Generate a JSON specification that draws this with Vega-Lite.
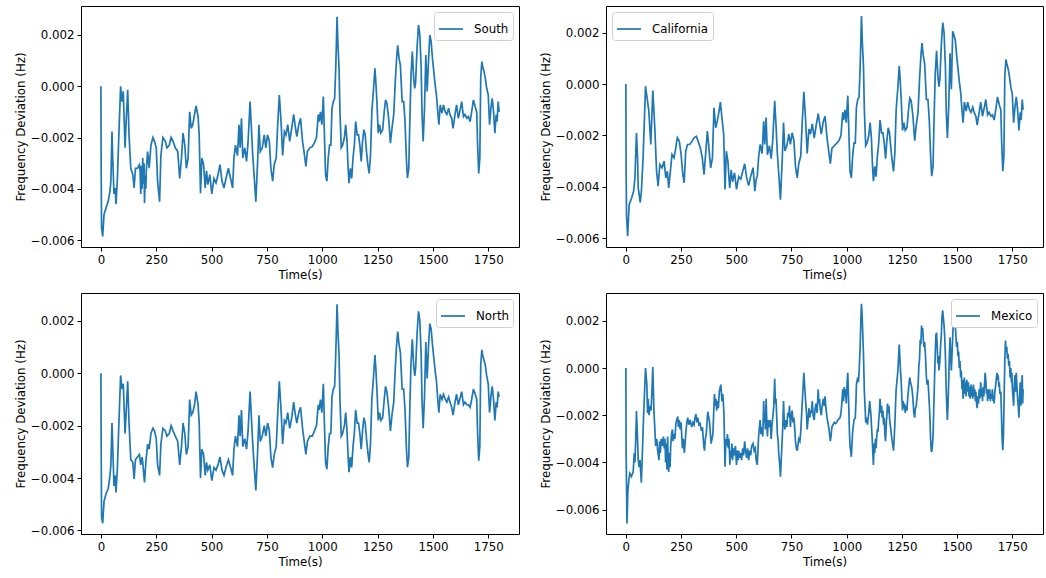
{
  "$schema": "https://vega.github.io/schema/vega-lite/v6.json",
  "background": "white",
  "padding": {"left": 14, "top": 5, "right": 1, "bottom": 0},
  "spacing": 9,
  "resolve": {"scale": {"color": "independent"}, "legend": {"color": "independent"}},
  "config": {
    "font": "DejaVu Sans",
    "view": {"stroke": "black", "strokeWidth": 1},
    "axis": {
      "grid": false,
      "domain": false,
      "tickColor": "black",
      "tickSize": 4,
      "tickWidth": 1,
      "labelFont": "DejaVu Sans",
      "labelFontSize": 11.8,
      "labelColor": "black",
      "labelPadding": 3,
      "labelFlush": false,
      "labelOverlap": false,
      "titleFont": "DejaVu Sans",
      "titleFontSize": 11.8,
      "titleFontWeight": "normal",
      "titleColor": "black",
      "titlePadding": 4
    },
    "legend": {
      "title": null,
      "symbolType": "stroke",
      "symbolSize": 576,
      "symbolStrokeWidth": 1.7,
      "labelFont": "DejaVu Sans",
      "labelFontSize": 11.8,
      "labelColor": "black",
      "labelOffset": 10,
      "strokeColor": "#d0d0d0",
      "fillColor": "white",
      "cornerRadius": 3,
      "padding": 4,
      "offset": 6
    },
    "line": {"strokeWidth": 1.7}
  },
  "datasets": {
    "south": [
      {"t":0,"v":0},{"t":1,"v":-0.00306},{"t":3,"v":-0.00553},{"t":8,"v":-0.00586},{"t":14,"v":-0.005},{"t":23,"v":-0.00475},{"t":33,"v":-0.00449},{"t":41,"v":-0.0041},{"t":45,"v":-0.0037},{"t":50,"v":-0.00177},{"t":53,"v":-0.0027},{"t":59,"v":-0.0042},{"t":64,"v":-0.00397},{"t":68,"v":-0.0046},{"t":74,"v":-0.0037},{"t":80,"v":-0.00215},{"t":89,"v":0},{"t":95,"v":-0.0006},{"t":101,"v":-0.0002},{"t":109,"v":-0.0024},{"t":114,"v":-0.00138},{"t":121,"v":-0.00014},{"t":127,"v":-0.0019},{"t":135,"v":-0.0032},{"t":144,"v":-0.00345},{"t":150,"v":-0.00397},{"t":156,"v":-0.0032},{"t":165,"v":-0.0032},{"t":174,"v":-0.00306},{"t":177,"v":-0.0033},{"t":180,"v":-0.0042},{"t":183,"v":-0.0031},{"t":186,"v":-0.004},{"t":189,"v":-0.0028},{"t":192,"v":-0.0038},{"t":195,"v":-0.003},{"t":197,"v":-0.00455},{"t":200,"v":-0.0035},{"t":203,"v":-0.004},{"t":205,"v":-0.0033},{"t":211,"v":-0.00255},{"t":218,"v":-0.0032},{"t":226,"v":-0.0023},{"t":235,"v":-0.002},{"t":242,"v":-0.00215},{"t":250,"v":-0.0024},{"t":256,"v":-0.0037},{"t":265,"v":-0.0045},{"t":271,"v":-0.0027},{"t":280,"v":-0.002},{"t":291,"v":-0.00215},{"t":298,"v":-0.0024},{"t":309,"v":-0.0023},{"t":317,"v":-0.002},{"t":326,"v":-0.00215},{"t":336,"v":-0.0024},{"t":347,"v":-0.00255},{"t":356,"v":-0.0036},{"t":364,"v":-0.0028},{"t":371,"v":-0.00183},{"t":379,"v":-0.0023},{"t":386,"v":-0.0032},{"t":394,"v":-0.0028},{"t":401,"v":-0.001},{"t":408,"v":-0.00164},{"t":415,"v":-0.0015},{"t":423,"v":-0.0011},{"t":430,"v":-0.00077},{"t":439,"v":-0.00118},{"t":444,"v":-0.0019},{"t":450,"v":-0.00417},{"t":456,"v":-0.0028},{"t":464,"v":-0.00306},{"t":471,"v":-0.00397},{"t":477,"v":-0.0033},{"t":483,"v":-0.00384},{"t":492,"v":-0.00345},{"t":501,"v":-0.0042},{"t":511,"v":-0.0036},{"t":520,"v":-0.00377},{"t":529,"v":-0.00345},{"t":538,"v":-0.00306},{"t":547,"v":-0.0037},{"t":556,"v":-0.00397},{"t":565,"v":-0.0036},{"t":576,"v":-0.0032},{"t":586,"v":-0.0036},{"t":595,"v":-0.00397},{"t":601,"v":-0.0028},{"t":608,"v":-0.0023},{"t":617,"v":-0.0027},{"t":624,"v":-0.0015},{"t":629,"v":-0.0024},{"t":635,"v":-0.00125},{"t":641,"v":-0.0028},{"t":650,"v":-0.0024},{"t":658,"v":-0.00293},{"t":665,"v":-0.00215},{"t":674,"v":-0.0006},{"t":680,"v":-0.00164},{"t":686,"v":-0.0027},{"t":692,"v":-0.00345},{"t":700,"v":-0.0045},{"t":708,"v":-0.00293},{"t":714,"v":-0.0015},{"t":720,"v":-0.00255},{"t":729,"v":-0.0024},{"t":738,"v":-0.0019},{"t":745,"v":-0.0024},{"t":753,"v":-0.0019},{"t":761,"v":-0.00215},{"t":768,"v":-0.0032},{"t":776,"v":-0.0037},{"t":783,"v":-0.00306},{"t":792,"v":-0.0028},{"t":798,"v":-0.00164},{"t":806,"v":-0.00034},{"t":814,"v":-0.00138},{"t":821,"v":-0.0027},{"t":829,"v":-0.00177},{"t":836,"v":-0.0019},{"t":844,"v":-0.0015},{"t":853,"v":-0.00215},{"t":862,"v":-0.00164},{"t":871,"v":-0.0011},{"t":877,"v":-0.0015},{"t":885,"v":-0.00196},{"t":894,"v":-0.0015},{"t":902,"v":-0.00125},{"t":911,"v":-0.00215},{"t":920,"v":-0.0027},{"t":926,"v":-0.00313},{"t":933,"v":-0.00255},{"t":944,"v":-0.0024},{"t":955,"v":-0.00235},{"t":965,"v":-0.0022},{"t":974,"v":-0.002},{"t":982,"v":-0.0011},{"t":986,"v":-0.00138},{"t":992,"v":-0.001},{"t":998,"v":-0.0015},{"t":1005,"v":-0.0004},{"t":1009,"v":-0.00164},{"t":1015,"v":-0.00345},{"t":1021,"v":-0.0037},{"t":1027,"v":-0.0028},{"t":1033,"v":-0.0023},{"t":1039,"v":-0.0023},{"t":1044,"v":-0.00086},{"t":1050,"v":-0.0006},{"t":1056,"v":-0.00047},{"t":1061,"v":0.0007},{"t":1067,"v":0.00271},{"t":1071,"v":0.0016},{"t":1076,"v":0.0007},{"t":1080,"v":-0.001},{"t":1086,"v":-0.0024},{"t":1092,"v":-0.0023},{"t":1100,"v":-0.002},{"t":1106,"v":-0.0015},{"t":1112,"v":-0.00215},{"t":1117,"v":-0.0032},{"t":1121,"v":-0.00378},{"t":1127,"v":-0.0032},{"t":1133,"v":-0.0036},{"t":1139,"v":-0.0028},{"t":1145,"v":-0.0023},{"t":1151,"v":-0.00138},{"t":1158,"v":-0.0019},{"t":1164,"v":-0.0019},{"t":1170,"v":-0.0023},{"t":1176,"v":-0.00293},{"t":1182,"v":-0.00215},{"t":1188,"v":-0.0017},{"t":1194,"v":-0.0019},{"t":1200,"v":-0.00255},{"t":1206,"v":-0.00306},{"t":1212,"v":-0.0034},{"t":1218,"v":-0.0027},{"t":1224,"v":-0.001},{"t":1232,"v":-0.00008},{"t":1238,"v":0.0007},{"t":1242,"v":0.00018},{"t":1247,"v":-0.0006},{"t":1253,"v":-0.00183},{"t":1259,"v":-0.0015},{"t":1265,"v":-0.00183},{"t":1273,"v":-0.0017},{"t":1280,"v":-0.001},{"t":1286,"v":-0.00053},{"t":1292,"v":-0.00066},{"t":1300,"v":-0.00125},{"t":1308,"v":-0.00222},{"t":1315,"v":-0.00164},{"t":1323,"v":-0.0011},{"t":1330,"v":0.00018},{"t":1336,"v":0.00109},{"t":1341,"v":0.0016},{"t":1347,"v":0.00109},{"t":1353,"v":0.00083},{"t":1361,"v":-0.0006},{"t":1368,"v":-0.0006},{"t":1374,"v":-0.00138},{"t":1380,"v":-0.0028},{"t":1385,"v":-0.00358},{"t":1391,"v":-0.0032},{"t":1395,"v":-0.00164},{"t":1401,"v":0.00044},{"t":1407,"v":0.00135},{"t":1413,"v":0.00031},{"t":1418,"v":-0.00008},{"t":1422,"v":0.00018},{"t":1429,"v":0.0016},{"t":1435,"v":0.00239},{"t":1441,"v":0.002},{"t":1447,"v":0.0007},{"t":1451,"v":-0.0011},{"t":1456,"v":-0.00215},{"t":1462,"v":-0.00086},{"t":1468,"v":0.00122},{"t":1474,"v":-0.0002},{"t":1480,"v":0.00096},{"t":1486,"v":0.002},{"t":1492,"v":0.00174},{"t":1498,"v":0.00109},{"t":1504,"v":0.00057},{"t":1510,"v":0.00005},{"t":1516,"v":-0.00034},{"t":1522,"v":-0.001},{"t":1527,"v":-0.0015},{"t":1533,"v":-0.00073},{"t":1541,"v":-0.00105},{"t":1548,"v":-0.00073},{"t":1556,"v":-0.001},{"t":1563,"v":-0.0011},{"t":1571,"v":-0.00086},{"t":1577,"v":-0.0011},{"t":1585,"v":-0.00125},{"t":1591,"v":-0.00164},{"t":1600,"v":-0.0011},{"t":1607,"v":-0.00073},{"t":1615,"v":-0.00125},{"t":1621,"v":-0.001},{"t":1630,"v":-0.0006},{"t":1638,"v":-0.00118},{"t":1645,"v":-0.0011},{"t":1653,"v":-0.00125},{"t":1660,"v":-0.00118},{"t":1668,"v":-0.00138},{"t":1675,"v":-0.001},{"t":1683,"v":-0.00053},{"t":1691,"v":-0.0008},{"t":1698,"v":-0.001},{"t":1702,"v":-0.0023},{"t":1707,"v":-0.0034},{"t":1712,"v":-0.0028},{"t":1716,"v":0.00031},{"t":1721,"v":0.00096},{"t":1725,"v":0.00077},{"t":1731,"v":0.00057},{"t":1737,"v":0.00031},{"t":1743,"v":-0.00008},{"t":1750,"v":-0.00034},{"t":1756,"v":-0.0015},{"t":1762,"v":-0.00086},{"t":1768,"v":-0.00047},{"t":1774,"v":-0.001},{"t":1780,"v":-0.00183},{"t":1786,"v":-0.0011},{"t":1790,"v":-0.00138},{"t":1795,"v":-0.0006},{"t":1799,"v":-0.001}
    ],
    "california": [
      {"t":0,"v":0},{"t":1,"v":-0.0032},{"t":3,"v":-0.0051},{"t":8,"v":-0.00592},{"t":15,"v":-0.00469},{"t":26,"v":-0.00443},{"t":35,"v":-0.00417},{"t":41,"v":-0.00365},{"t":48,"v":-0.0019},{"t":53,"v":-0.0029},{"t":56,"v":-0.00404},{"t":65,"v":-0.0046},{"t":70,"v":-0.0042},{"t":78,"v":-0.00287},{"t":89,"v":-0.00008},{"t":98,"v":-0.00066},{"t":104,"v":-0.00105},{"t":113,"v":-0.00235},{"t":122,"v":-0.00025},{"t":131,"v":-0.0017},{"t":139,"v":-0.00339},{"t":146,"v":-0.00397},{"t":154,"v":-0.00313},{"t":164,"v":-0.00326},{"t":173,"v":-0.003},{"t":181,"v":-0.00365},{"t":188,"v":-0.00339},{"t":194,"v":-0.00404},{"t":203,"v":-0.00326},{"t":209,"v":-0.00274},{"t":218,"v":-0.00287},{"t":226,"v":-0.00248},{"t":233,"v":-0.00209},{"t":242,"v":-0.00222},{"t":250,"v":-0.00274},{"t":258,"v":-0.00352},{"t":264,"v":-0.00384},{"t":271,"v":-0.00261},{"t":279,"v":-0.00235},{"t":289,"v":-0.00235},{"t":300,"v":-0.00222},{"t":309,"v":-0.00209},{"t":319,"v":-0.00203},{"t":327,"v":-0.00222},{"t":337,"v":-0.00248},{"t":346,"v":-0.00287},{"t":354,"v":-0.00352},{"t":361,"v":-0.00274},{"t":369,"v":-0.00183},{"t":376,"v":-0.00248},{"t":384,"v":-0.00326},{"t":392,"v":-0.00287},{"t":399,"v":-0.00092},{"t":407,"v":-0.0017},{"t":414,"v":-0.00144},{"t":422,"v":-0.00105},{"t":428,"v":-0.0007},{"t":435,"v":-0.00131},{"t":443,"v":-0.00196},{"t":449,"v":-0.0041},{"t":455,"v":-0.00261},{"t":462,"v":-0.003},{"t":470,"v":-0.00404},{"t":477,"v":-0.00335},{"t":483,"v":-0.0038},{"t":492,"v":-0.00345},{"t":501,"v":-0.0041},{"t":511,"v":-0.0036},{"t":520,"v":-0.0037},{"t":529,"v":-0.0034},{"t":538,"v":-0.0031},{"t":547,"v":-0.00365},{"t":556,"v":-0.00395},{"t":565,"v":-0.0036},{"t":576,"v":-0.00325},{"t":584,"v":-0.00417},{"t":590,"v":-0.0037},{"t":595,"v":-0.0036},{"t":601,"v":-0.00285},{"t":608,"v":-0.00235},{"t":617,"v":-0.0027},{"t":624,"v":-0.00145},{"t":629,"v":-0.00235},{"t":635,"v":-0.0013},{"t":641,"v":-0.00275},{"t":650,"v":-0.0024},{"t":658,"v":-0.0029},{"t":665,"v":-0.0022},{"t":674,"v":-0.00065},{"t":680,"v":-0.0016},{"t":686,"v":-0.0027},{"t":692,"v":-0.00345},{"t":700,"v":-0.0045},{"t":708,"v":-0.00295},{"t":714,"v":-0.0015},{"t":720,"v":-0.0026},{"t":729,"v":-0.0024},{"t":738,"v":-0.00195},{"t":745,"v":-0.00235},{"t":753,"v":-0.0019},{"t":761,"v":-0.0022},{"t":768,"v":-0.0032},{"t":776,"v":-0.00365},{"t":783,"v":-0.0031},{"t":792,"v":-0.0028},{"t":798,"v":-0.0016},{"t":806,"v":-0.0003},{"t":814,"v":-0.0014},{"t":821,"v":-0.0027},{"t":829,"v":-0.00175},{"t":836,"v":-0.00195},{"t":844,"v":-0.00155},{"t":853,"v":-0.0021},{"t":862,"v":-0.0016},{"t":871,"v":-0.00115},{"t":877,"v":-0.0015},{"t":885,"v":-0.00195},{"t":894,"v":-0.00145},{"t":902,"v":-0.00125},{"t":911,"v":-0.0021},{"t":920,"v":-0.0027},{"t":926,"v":-0.0031},{"t":933,"v":-0.0025},{"t":944,"v":-0.0024},{"t":955,"v":-0.0023},{"t":965,"v":-0.0022},{"t":974,"v":-0.002},{"t":982,"v":-0.0011},{"t":986,"v":-0.0014},{"t":992,"v":-0.001},{"t":998,"v":-0.0015},{"t":1005,"v":-0.00045},{"t":1009,"v":-0.0016},{"t":1015,"v":-0.0034},{"t":1021,"v":-0.00365},{"t":1027,"v":-0.0028},{"t":1033,"v":-0.0023},{"t":1039,"v":-0.0023},{"t":1044,"v":-0.0009},{"t":1050,"v":-0.0006},{"t":1056,"v":-0.0005},{"t":1061,"v":0.0007},{"t":1067,"v":0.00265},{"t":1071,"v":0.0016},{"t":1076,"v":0.0007},{"t":1080,"v":-0.001},{"t":1086,"v":-0.0024},{"t":1092,"v":-0.0023},{"t":1100,"v":-0.002},{"t":1106,"v":-0.0015},{"t":1112,"v":-0.0021},{"t":1117,"v":-0.0032},{"t":1121,"v":-0.00378},{"t":1127,"v":-0.0032},{"t":1133,"v":-0.0036},{"t":1139,"v":-0.0028},{"t":1145,"v":-0.0023},{"t":1151,"v":-0.0014},{"t":1158,"v":-0.0019},{"t":1164,"v":-0.0019},{"t":1170,"v":-0.0023},{"t":1176,"v":-0.0029},{"t":1182,"v":-0.0022},{"t":1188,"v":-0.0017},{"t":1194,"v":-0.0019},{"t":1200,"v":-0.0025},{"t":1206,"v":-0.003},{"t":1212,"v":-0.0034},{"t":1218,"v":-0.0027},{"t":1224,"v":-0.001},{"t":1232,"v":-0.0001},{"t":1238,"v":0.0007},{"t":1242,"v":0.0002},{"t":1247,"v":-0.0006},{"t":1253,"v":-0.0018},{"t":1259,"v":-0.0015},{"t":1265,"v":-0.0018},{"t":1273,"v":-0.0017},{"t":1280,"v":-0.001},{"t":1286,"v":-0.00055},{"t":1292,"v":-0.00065},{"t":1300,"v":-0.00125},{"t":1308,"v":-0.0022},{"t":1315,"v":-0.0016},{"t":1323,"v":-0.0011},{"t":1330,"v":0.0002},{"t":1336,"v":0.0011},{"t":1341,"v":0.0016},{"t":1347,"v":0.0011},{"t":1353,"v":0.0008},{"t":1361,"v":-0.0006},{"t":1368,"v":-0.0006},{"t":1374,"v":-0.0014},{"t":1380,"v":-0.0028},{"t":1385,"v":-0.00358},{"t":1391,"v":-0.0032},{"t":1395,"v":-0.0016},{"t":1401,"v":0.0004},{"t":1407,"v":0.0013},{"t":1413,"v":0.0003},{"t":1418,"v":-0.0001},{"t":1422,"v":0.0002},{"t":1429,"v":0.0016},{"t":1435,"v":0.00239},{"t":1441,"v":0.002},{"t":1447,"v":0.0007},{"t":1451,"v":-0.0011},{"t":1456,"v":-0.0021},{"t":1462,"v":-0.0009},{"t":1468,"v":0.0012},{"t":1474,"v":-0.0002},{"t":1480,"v":0.00206},{"t":1486,"v":0.0019},{"t":1492,"v":0.0017},{"t":1498,"v":0.0011},{"t":1504,"v":0.0006},{"t":1510,"v":0.0001},{"t":1516,"v":-0.0003},{"t":1522,"v":-0.001},{"t":1527,"v":-0.0015},{"t":1533,"v":-0.0007},{"t":1541,"v":-0.00105},{"t":1548,"v":-0.0007},{"t":1556,"v":-0.001},{"t":1563,"v":-0.0011},{"t":1571,"v":-0.0009},{"t":1577,"v":-0.0011},{"t":1585,"v":-0.00125},{"t":1591,"v":-0.0016},{"t":1600,"v":-0.0011},{"t":1607,"v":-0.0007},{"t":1615,"v":-0.00125},{"t":1621,"v":-0.001},{"t":1630,"v":-0.0006},{"t":1638,"v":-0.0012},{"t":1645,"v":-0.0011},{"t":1653,"v":-0.00125},{"t":1660,"v":-0.0012},{"t":1668,"v":-0.0014},{"t":1675,"v":-0.001},{"t":1683,"v":-0.0005},{"t":1691,"v":-0.0008},{"t":1698,"v":-0.001},{"t":1702,"v":-0.0023},{"t":1707,"v":-0.00339},{"t":1712,"v":-0.0028},{"t":1716,"v":0.0003},{"t":1721,"v":0.00096},{"t":1725,"v":0.0008},{"t":1731,"v":0.0006},{"t":1737,"v":0.0003},{"t":1743,"v":-0.0001},{"t":1750,"v":-0.0004},{"t":1756,"v":-0.0015},{"t":1762,"v":-0.0009},{"t":1768,"v":-0.0005},{"t":1774,"v":-0.001},{"t":1780,"v":-0.0018},{"t":1786,"v":-0.0011},{"t":1790,"v":-0.0014},{"t":1795,"v":-0.0006},{"t":1799,"v":-0.001}
    ],
    "north": [
      {"t":0,"v":0},{"t":1,"v":-0.0025},{"t":3,"v":-0.0055},{"t":8,"v":-0.00573},{"t":14,"v":-0.0049},{"t":23,"v":-0.0046},{"t":33,"v":-0.0044},{"t":41,"v":-0.0039},{"t":45,"v":-0.0035},{"t":50,"v":-0.0019},{"t":53,"v":-0.0027},{"t":59,"v":-0.0043},{"t":64,"v":-0.0039},{"t":68,"v":-0.00455},{"t":74,"v":-0.0037},{"t":80,"v":-0.0022},{"t":89,"v":-0.00008},{"t":95,"v":-0.0006},{"t":101,"v":-0.0004},{"t":109,"v":-0.0023},{"t":114,"v":-0.0015},{"t":121,"v":-0.0003},{"t":127,"v":-0.0019},{"t":135,"v":-0.0033},{"t":144,"v":-0.0034},{"t":150,"v":-0.00404},{"t":156,"v":-0.0033},{"t":165,"v":-0.0032},{"t":174,"v":-0.0031},{"t":180,"v":-0.0035},{"t":186,"v":-0.0032},{"t":189,"v":-0.0034},{"t":194,"v":-0.0039},{"t":197,"v":-0.00417},{"t":203,"v":-0.0034},{"t":211,"v":-0.0027},{"t":218,"v":-0.0029},{"t":226,"v":-0.0023},{"t":235,"v":-0.0021},{"t":242,"v":-0.0022},{"t":250,"v":-0.0025},{"t":256,"v":-0.0035},{"t":265,"v":-0.0039},{"t":271,"v":-0.0027},{"t":280,"v":-0.0021},{"t":291,"v":-0.0022},{"t":298,"v":-0.0024},{"t":309,"v":-0.0023},{"t":317,"v":-0.002},{"t":326,"v":-0.0022},{"t":336,"v":-0.0024},{"t":347,"v":-0.0026},{"t":356,"v":-0.0035},{"t":364,"v":-0.0028},{"t":371,"v":-0.0019},{"t":379,"v":-0.0023},{"t":386,"v":-0.0031},{"t":394,"v":-0.0028},{"t":401,"v":-0.001},{"t":408,"v":-0.0016},{"t":415,"v":-0.0015},{"t":423,"v":-0.0012},{"t":430,"v":-0.0007},{"t":439,"v":-0.0012},{"t":444,"v":-0.0019},{"t":450,"v":-0.004},{"t":456,"v":-0.0029},{"t":464,"v":-0.0031},{"t":471,"v":-0.0039},{"t":477,"v":-0.0034},{"t":483,"v":-0.0037},{"t":492,"v":-0.0035},{"t":501,"v":-0.0041},{"t":511,"v":-0.0036},{"t":520,"v":-0.0037},{"t":529,"v":-0.0035},{"t":538,"v":-0.0032},{"t":547,"v":-0.0037},{"t":556,"v":-0.0039},{"t":565,"v":-0.0036},{"t":576,"v":-0.0033},{"t":586,"v":-0.0036},{"t":595,"v":-0.0039},{"t":601,"v":-0.0029},{"t":608,"v":-0.0024},{"t":617,"v":-0.0028},{"t":624,"v":-0.0016},{"t":629,"v":-0.0024},{"t":635,"v":-0.0014},{"t":641,"v":-0.0028},{"t":650,"v":-0.0025},{"t":658,"v":-0.0029},{"t":665,"v":-0.0022},{"t":674,"v":-0.0007},{"t":680,"v":-0.0017},{"t":686,"v":-0.0027},{"t":692,"v":-0.0035},{"t":700,"v":-0.00448},{"t":708,"v":-0.003},{"t":714,"v":-0.0016},{"t":720,"v":-0.0026},{"t":729,"v":-0.0024},{"t":738,"v":-0.002},{"t":745,"v":-0.0024},{"t":753,"v":-0.0019},{"t":761,"v":-0.0022},{"t":768,"v":-0.0032},{"t":776,"v":-0.0036},{"t":783,"v":-0.0031},{"t":792,"v":-0.0028},{"t":798,"v":-0.0017},{"t":806,"v":-0.0003},{"t":814,"v":-0.0014},{"t":821,"v":-0.0027},{"t":829,"v":-0.0018},{"t":836,"v":-0.0019},{"t":844,"v":-0.0015},{"t":853,"v":-0.0021},{"t":862,"v":-0.0017},{"t":871,"v":-0.0011},{"t":877,"v":-0.0015},{"t":885,"v":-0.0019},{"t":894,"v":-0.0015},{"t":902,"v":-0.0013},{"t":911,"v":-0.0021},{"t":920,"v":-0.0027},{"t":926,"v":-0.0031},{"t":933,"v":-0.0026},{"t":944,"v":-0.0024},{"t":955,"v":-0.0024},{"t":965,"v":-0.0022},{"t":974,"v":-0.002},{"t":982,"v":-0.0012},{"t":986,"v":-0.0014},{"t":992,"v":-0.001},{"t":998,"v":-0.0015},{"t":1005,"v":-0.0004},{"t":1009,"v":-0.0017},{"t":1015,"v":-0.0034},{"t":1021,"v":-0.00366},{"t":1027,"v":-0.0028},{"t":1033,"v":-0.0023},{"t":1039,"v":-0.0023},{"t":1044,"v":-0.0009},{"t":1050,"v":-0.0006},{"t":1056,"v":-0.0005},{"t":1061,"v":0.0007},{"t":1067,"v":0.00264},{"t":1071,"v":0.0016},{"t":1076,"v":0.0007},{"t":1080,"v":-0.001},{"t":1086,"v":-0.0024},{"t":1092,"v":-0.0023},{"t":1100,"v":-0.002},{"t":1106,"v":-0.0015},{"t":1112,"v":-0.0022},{"t":1117,"v":-0.0032},{"t":1121,"v":-0.00378},{"t":1127,"v":-0.0032},{"t":1133,"v":-0.0036},{"t":1139,"v":-0.0028},{"t":1145,"v":-0.0023},{"t":1151,"v":-0.0014},{"t":1158,"v":-0.0019},{"t":1164,"v":-0.0019},{"t":1170,"v":-0.0023},{"t":1176,"v":-0.0029},{"t":1182,"v":-0.0022},{"t":1188,"v":-0.0017},{"t":1194,"v":-0.0019},{"t":1200,"v":-0.0025},{"t":1206,"v":-0.003},{"t":1212,"v":-0.0034},{"t":1218,"v":-0.0027},{"t":1224,"v":-0.001},{"t":1232,"v":-0.0001},{"t":1238,"v":0.0007},{"t":1242,"v":0.0002},{"t":1247,"v":-0.0006},{"t":1253,"v":-0.0018},{"t":1259,"v":-0.0015},{"t":1265,"v":-0.0018},{"t":1273,"v":-0.0017},{"t":1280,"v":-0.001},{"t":1286,"v":-0.0005},{"t":1292,"v":-0.0007},{"t":1300,"v":-0.0013},{"t":1308,"v":-0.0022},{"t":1315,"v":-0.0016},{"t":1323,"v":-0.0011},{"t":1330,"v":0.0002},{"t":1336,"v":0.0011},{"t":1341,"v":0.0016},{"t":1347,"v":0.0011},{"t":1353,"v":0.0008},{"t":1361,"v":-0.0006},{"t":1368,"v":-0.0006},{"t":1374,"v":-0.0014},{"t":1380,"v":-0.0028},{"t":1385,"v":-0.00359},{"t":1391,"v":-0.0032},{"t":1395,"v":-0.0016},{"t":1401,"v":0.0004},{"t":1407,"v":0.0013},{"t":1413,"v":0.0003},{"t":1418,"v":-0.0001},{"t":1422,"v":0.0002},{"t":1429,"v":0.0016},{"t":1435,"v":0.00237},{"t":1441,"v":0.002},{"t":1447,"v":0.0007},{"t":1451,"v":-0.0011},{"t":1456,"v":-0.0021},{"t":1462,"v":-0.0009},{"t":1468,"v":0.0012},{"t":1474,"v":-0.0002},{"t":1480,"v":0.001},{"t":1486,"v":0.0019},{"t":1492,"v":0.0017},{"t":1498,"v":0.0011},{"t":1504,"v":0.0006},{"t":1510,"v":0.0001},{"t":1516,"v":-0.0003},{"t":1522,"v":-0.001},{"t":1527,"v":-0.0015},{"t":1533,"v":-0.0008},{"t":1541,"v":-0.001},{"t":1548,"v":-0.0008},{"t":1556,"v":-0.001},{"t":1563,"v":-0.0011},{"t":1571,"v":-0.0009},{"t":1577,"v":-0.0011},{"t":1585,"v":-0.0013},{"t":1591,"v":-0.0016},{"t":1600,"v":-0.0011},{"t":1607,"v":-0.0008},{"t":1615,"v":-0.0012},{"t":1621,"v":-0.001},{"t":1630,"v":-0.0007},{"t":1638,"v":-0.0012},{"t":1645,"v":-0.0011},{"t":1653,"v":-0.0012},{"t":1660,"v":-0.0012},{"t":1668,"v":-0.0013},{"t":1675,"v":-0.001},{"t":1683,"v":-0.0006},{"t":1691,"v":-0.0008},{"t":1698,"v":-0.001},{"t":1702,"v":-0.0023},{"t":1707,"v":-0.00334},{"t":1712,"v":-0.0028},{"t":1716,"v":0.0003},{"t":1721,"v":0.0009},{"t":1725,"v":0.0007},{"t":1731,"v":0.0005},{"t":1737,"v":0.0003},{"t":1743,"v":-0.0001},{"t":1750,"v":-0.0004},{"t":1756,"v":-0.0015},{"t":1762,"v":-0.0009},{"t":1768,"v":-0.0005},{"t":1774,"v":-0.001},{"t":1780,"v":-0.0018},{"t":1786,"v":-0.0011},{"t":1790,"v":-0.0013},{"t":1795,"v":-0.0007},{"t":1799,"v":-0.0009}
    ],
    "mexico": [
      {"t":0,"v":0},{"t":1,"v":-0.0035},{"t":3,"v":-0.005},{"t":5,"v":-0.00658},{"t":9,"v":-0.0052},{"t":14,"v":-0.0047},{"t":18,"v":-0.00446},{"t":25,"v":-0.0046},{"t":33,"v":-0.0044},{"t":38,"v":-0.0036},{"t":41,"v":-0.004},{"t":45,"v":-0.0029},{"t":48,"v":-0.00182},{"t":52,"v":-0.0028},{"t":56,"v":-0.0039},{"t":60,"v":-0.0042},{"t":64,"v":-0.0039},{"t":70,"v":-0.00486},{"t":74,"v":-0.0038},{"t":80,"v":-0.0021},{"t":89,"v":0},{"t":95,"v":-0.0007},{"t":98,"v":-0.0019},{"t":101,"v":-0.0013},{"t":105,"v":-0.002},{"t":109,"v":-0.0016},{"t":114,"v":-0.0018},{"t":118,"v":-0.001},{"t":122,"v":0.00004},{"t":127,"v":-0.0018},{"t":135,"v":-0.0033},{"t":140,"v":-0.003},{"t":144,"v":-0.0035},{"t":150,"v":-0.0039},{"t":153,"v":-0.0031},{"t":156,"v":-0.0036},{"t":160,"v":-0.003},{"t":165,"v":-0.0033},{"t":170,"v":-0.0029},{"t":174,"v":-0.0034},{"t":177,"v":-0.003},{"t":180,"v":-0.004},{"t":183,"v":-0.0032},{"t":186,"v":-0.0043},{"t":189,"v":-0.0029},{"t":192,"v":-0.0041},{"t":194,"v":-0.0044},{"t":197,"v":-0.0036},{"t":200,"v":-0.0042},{"t":203,"v":-0.0033},{"t":207,"v":-0.0028},{"t":211,"v":-0.0026},{"t":214,"v":-0.0031},{"t":218,"v":-0.0028},{"t":222,"v":-0.003},{"t":226,"v":-0.0024},{"t":230,"v":-0.0022},{"t":235,"v":-0.00205},{"t":238,"v":-0.0025},{"t":242,"v":-0.0022},{"t":246,"v":-0.0026},{"t":250,"v":-0.0023},{"t":256,"v":-0.0034},{"t":260,"v":-0.003},{"t":265,"v":-0.0036},{"t":271,"v":-0.0028},{"t":276,"v":-0.0023},{"t":280,"v":-0.0021},{"t":285,"v":-0.0024},{"t":291,"v":-0.0022},{"t":298,"v":-0.0025},{"t":304,"v":-0.0023},{"t":309,"v":-0.0024},{"t":313,"v":-0.0021},{"t":317,"v":-0.00195},{"t":322,"v":-0.0023},{"t":326,"v":-0.0021},{"t":331,"v":-0.0024},{"t":336,"v":-0.00235},{"t":341,"v":-0.0026},{"t":347,"v":-0.00255},{"t":352,"v":-0.0032},{"t":356,"v":-0.0035},{"t":360,"v":-0.003},{"t":364,"v":-0.0028},{"t":371,"v":-0.00185},{"t":379,"v":-0.0023},{"t":386,"v":-0.0032},{"t":394,"v":-0.0028},{"t":401,"v":-0.0011},{"t":404,"v":-0.0016},{"t":408,"v":-0.0013},{"t":411,"v":-0.0018},{"t":415,"v":-0.0014},{"t":419,"v":-0.0017},{"t":423,"v":-0.001},{"t":430,"v":-0.0007},{"t":435,"v":-0.0014},{"t":439,"v":-0.0011},{"t":444,"v":-0.0019},{"t":449,"v":-0.00418},{"t":453,"v":-0.003},{"t":456,"v":-0.0033},{"t":460,"v":-0.0028},{"t":464,"v":-0.0034},{"t":467,"v":-0.003},{"t":471,"v":-0.0041},{"t":474,"v":-0.0035},{"t":477,"v":-0.0038},{"t":480,"v":-0.0032},{"t":483,"v":-0.0039},{"t":487,"v":-0.0034},{"t":492,"v":-0.0037},{"t":496,"v":-0.0033},{"t":501,"v":-0.0041},{"t":505,"v":-0.0035},{"t":508,"v":-0.0039},{"t":511,"v":-0.0035},{"t":515,"v":-0.0038},{"t":520,"v":-0.0036},{"t":524,"v":-0.0039},{"t":529,"v":-0.0034},{"t":533,"v":-0.0037},{"t":538,"v":-0.0031},{"t":542,"v":-0.0035},{"t":547,"v":-0.0038},{"t":551,"v":-0.0034},{"t":556,"v":-0.0039},{"t":560,"v":-0.0035},{"t":565,"v":-0.0037},{"t":570,"v":-0.0033},{"t":576,"v":-0.0032},{"t":581,"v":-0.0035},{"t":586,"v":-0.0034},{"t":590,"v":-0.0039},{"t":595,"v":-0.0041},{"t":601,"v":-0.0029},{"t":605,"v":-0.0025},{"t":608,"v":-0.0022},{"t":612,"v":-0.0028},{"t":617,"v":-0.0025},{"t":620,"v":-0.0029},{"t":624,"v":-0.0014},{"t":627,"v":-0.0023},{"t":629,"v":-0.0021},{"t":632,"v":-0.0026},{"t":635,"v":-0.0013},{"t":638,"v":-0.0022},{"t":641,"v":-0.0029},{"t":645,"v":-0.0022},{"t":650,"v":-0.0025},{"t":654,"v":-0.0022},{"t":658,"v":-0.003},{"t":662,"v":-0.0024},{"t":665,"v":-0.0021},{"t":670,"v":-0.0016},{"t":674,"v":-0.00045},{"t":677,"v":-0.0015},{"t":680,"v":-0.0013},{"t":686,"v":-0.0028},{"t":690,"v":-0.0031},{"t":692,"v":-0.0036},{"t":696,"v":-0.004},{"t":700,"v":-0.0046},{"t":704,"v":-0.0038},{"t":708,"v":-0.003},{"t":711,"v":-0.0024},{"t":714,"v":-0.0014},{"t":717,"v":-0.0022},{"t":720,"v":-0.0026},{"t":724,"v":-0.0022},{"t":729,"v":-0.0025},{"t":733,"v":-0.0019},{"t":738,"v":-0.002},{"t":741,"v":-0.0016},{"t":745,"v":-0.0025},{"t":749,"v":-0.002},{"t":753,"v":-0.0018},{"t":757,"v":-0.0023},{"t":761,"v":-0.0021},{"t":765,"v":-0.0026},{"t":768,"v":-0.0031},{"t":772,"v":-0.0034},{"t":776,"v":-0.0035},{"t":780,"v":-0.0032},{"t":783,"v":-0.003},{"t":788,"v":-0.0031},{"t":792,"v":-0.0027},{"t":798,"v":-0.0016},{"t":802,"v":-0.0009},{"t":806,"v":-0.0002},{"t":810,"v":-0.0008},{"t":814,"v":-0.0014},{"t":818,"v":-0.0019},{"t":821,"v":-0.0026},{"t":825,"v":-0.0022},{"t":829,"v":-0.0017},{"t":833,"v":-0.0021},{"t":836,"v":-0.0018},{"t":840,"v":-0.0019},{"t":844,"v":-0.0014},{"t":848,"v":-0.002},{"t":853,"v":-0.0022},{"t":857,"v":-0.0017},{"t":862,"v":-0.0015},{"t":866,"v":-0.0019},{"t":871,"v":-0.0009},{"t":874,"v":-0.0015},{"t":877,"v":-0.0013},{"t":881,"v":-0.0018},{"t":885,"v":-0.002},{"t":889,"v":-0.0016},{"t":894,"v":-0.0013},{"t":898,"v":-0.0016},{"t":902,"v":-0.0012},{"t":906,"v":-0.0017},{"t":911,"v":-0.0021},{"t":915,"v":-0.0023},{"t":920,"v":-0.0026},{"t":926,"v":-0.0031},{"t":930,"v":-0.0028},{"t":933,"v":-0.0025},{"t":938,"v":-0.0024},{"t":944,"v":-0.0023},{"t":950,"v":-0.00235},{"t":955,"v":-0.0023},{"t":960,"v":-0.0022},{"t":965,"v":-0.00215},{"t":970,"v":-0.0021},{"t":974,"v":-0.0019},{"t":978,"v":-0.0015},{"t":982,"v":-0.0009},{"t":986,"v":-0.0014},{"t":989,"v":-0.0008},{"t":992,"v":-0.0012},{"t":995,"v":-0.0009},{"t":998,"v":-0.0015},{"t":1002,"v":-0.0006},{"t":1005,"v":-0.0002},{"t":1009,"v":-0.0015},{"t":1012,"v":-0.0026},{"t":1015,"v":-0.0033},{"t":1018,"v":-0.0035},{"t":1021,"v":-0.00376},{"t":1024,"v":-0.0032},{"t":1027,"v":-0.0027},{"t":1033,"v":-0.0022},{"t":1039,"v":-0.0021},{"t":1042,"v":-0.0014},{"t":1044,"v":-0.0007},{"t":1050,"v":-0.0004},{"t":1053,"v":-0.0006},{"t":1056,"v":-0.0002},{"t":1061,"v":0.0009},{"t":1064,"v":0.002},{"t":1067,"v":0.00272},{"t":1070,"v":0.0022},{"t":1073,"v":0.0014},{"t":1076,"v":0.0006},{"t":1080,"v":-0.001},{"t":1084,"v":-0.0018},{"t":1086,"v":-0.0023},{"t":1090,"v":-0.0022},{"t":1094,"v":-0.0024},{"t":1100,"v":-0.0019},{"t":1104,"v":-0.0014},{"t":1106,"v":-0.0016},{"t":1110,"v":-0.002},{"t":1112,"v":-0.0024},{"t":1115,"v":-0.0029},{"t":1117,"v":-0.0033},{"t":1121,"v":-0.00411},{"t":1124,"v":-0.0032},{"t":1127,"v":-0.0036},{"t":1130,"v":-0.003},{"t":1133,"v":-0.0034},{"t":1136,"v":-0.0029},{"t":1139,"v":-0.0026},{"t":1142,"v":-0.0027},{"t":1145,"v":-0.0022},{"t":1148,"v":-0.0019},{"t":1151,"v":-0.0013},{"t":1155,"v":-0.0019},{"t":1158,"v":-0.0016},{"t":1161,"v":-0.0021},{"t":1164,"v":-0.0018},{"t":1167,"v":-0.0024},{"t":1170,"v":-0.0021},{"t":1173,"v":-0.0028},{"t":1176,"v":-0.0031},{"t":1179,"v":-0.0024},{"t":1182,"v":-0.002},{"t":1185,"v":-0.0015},{"t":1188,"v":-0.0019},{"t":1191,"v":-0.0016},{"t":1194,"v":-0.0021},{"t":1197,"v":-0.0024},{"t":1200,"v":-0.0026},{"t":1203,"v":-0.0029},{"t":1206,"v":-0.0031},{"t":1209,"v":-0.0033},{"t":1212,"v":-0.0035},{"t":1215,"v":-0.003},{"t":1218,"v":-0.0024},{"t":1221,"v":-0.0016},{"t":1224,"v":-0.0009},{"t":1228,"v":-0.0005},{"t":1232,"v":-0.0001},{"t":1235,"v":0.0005},{"t":1238,"v":0.001},{"t":1242,"v":0.0002},{"t":1245,"v":-0.0003},{"t":1247,"v":-0.0006},{"t":1250,"v":-0.0013},{"t":1253,"v":-0.0018},{"t":1256,"v":-0.0014},{"t":1259,"v":-0.0017},{"t":1262,"v":-0.0015},{"t":1265,"v":-0.0019},{"t":1269,"v":-0.0016},{"t":1273,"v":-0.0018},{"t":1276,"v":-0.0013},{"t":1280,"v":-0.0009},{"t":1284,"v":-0.0005},{"t":1286,"v":-0.0004},{"t":1289,"v":-0.0006},{"t":1292,"v":-0.0007},{"t":1296,"v":-0.0009},{"t":1300,"v":-0.0013},{"t":1304,"v":-0.0019},{"t":1308,"v":-0.0021},{"t":1311,"v":-0.0017},{"t":1315,"v":-0.0016},{"t":1319,"v":-0.0012},{"t":1323,"v":-0.0008},{"t":1327,"v":0.0001},{"t":1330,"v":0.0004},{"t":1333,"v":0.0012},{"t":1336,"v":0.001},{"t":1339,"v":0.0018},{"t":1341,"v":0.0015},{"t":1344,"v":0.0017},{"t":1347,"v":0.0012},{"t":1350,"v":0.0009},{"t":1353,"v":0.0011},{"t":1357,"v":0.0005},{"t":1361,"v":-0.0004},{"t":1364,"v":-0.0007},{"t":1368,"v":-0.0005},{"t":1371,"v":-0.001},{"t":1374,"v":-0.0015},{"t":1377,"v":-0.0021},{"t":1380,"v":-0.003},{"t":1383,"v":-0.0035},{"t":1385,"v":-0.00355},{"t":1388,"v":-0.0033},{"t":1391,"v":-0.0029},{"t":1395,"v":-0.0015},{"t":1398,"v":-0.0004},{"t":1401,"v":0.0006},{"t":1404,"v":0.0014},{"t":1407,"v":0.0015},{"t":1410,"v":0.0009},{"t":1413,"v":0.0002},{"t":1416,"v":0.0005},{"t":1418,"v":-0.0001},{"t":1422,"v":0.0003},{"t":1425,"v":0.0009},{"t":1429,"v":0.0015},{"t":1432,"v":0.0022},{"t":1435,"v":0.00244},{"t":1438,"v":0.0021},{"t":1441,"v":0.0018},{"t":1444,"v":0.0013},{"t":1447,"v":0.0005},{"t":1451,"v":-0.001},{"t":1454,"v":-0.0018},{"t":1456,"v":-0.0022},{"t":1459,"v":-0.0015},{"t":1462,"v":-0.0006},{"t":1465,"v":0.0005},{"t":1468,"v":0.0013},{"t":1471,"v":0.0005},{"t":1474,"v":-0.0001},{"t":1477,"v":0.0006},{"t":1480,"v":0.0013},{"t":1483,"v":0.0019},{"t":1486,"v":0.00201},{"t":1489,"v":0.0017},{"t":1492,"v":0.0018},{"t":1495,"v":0.0013},{"t":1498,"v":0.0009},{"t":1501,"v":0.0011},{"t":1504,"v":0.0005},{"t":1507,"v":0.0007},{"t":1510,"v":0},{"t":1513,"v":0.0003},{"t":1516,"v":-0.0004},{"t":1519,"v":-0.0001},{"t":1522,"v":-0.0009},{"t":1525,"v":-0.0005},{"t":1527,"v":-0.0013},{"t":1530,"v":-0.0009},{"t":1533,"v":-0.0004},{"t":1536,"v":-0.0011},{"t":1539,"v":-0.0006},{"t":1541,"v":-0.0012},{"t":1544,"v":-0.0005},{"t":1548,"v":-0.001},{"t":1551,"v":-0.0006},{"t":1554,"v":-0.0012},{"t":1556,"v":-0.0008},{"t":1559,"v":-0.0013},{"t":1563,"v":-0.0007},{"t":1566,"v":-0.0012},{"t":1569,"v":-0.0008},{"t":1571,"v":-0.0013},{"t":1574,"v":-0.0007},{"t":1577,"v":-0.0012},{"t":1580,"v":-0.0009},{"t":1583,"v":-0.0014},{"t":1585,"v":-0.001},{"t":1588,"v":-0.0015},{"t":1591,"v":-0.0017},{"t":1594,"v":-0.0012},{"t":1597,"v":-0.0015},{"t":1600,"v":-0.0009},{"t":1603,"v":-0.0013},{"t":1607,"v":-0.0006},{"t":1610,"v":-0.0012},{"t":1613,"v":-0.0009},{"t":1615,"v":-0.0014},{"t":1618,"v":-0.0008},{"t":1621,"v":-0.0012},{"t":1624,"v":-0.0007},{"t":1627,"v":-0.0002},{"t":1630,"v":-0.0005},{"t":1633,"v":-0.0011},{"t":1636,"v":-0.0009},{"t":1638,"v":-0.0014},{"t":1641,"v":-0.0009},{"t":1645,"v":-0.0013},{"t":1648,"v":-0.0009},{"t":1651,"v":-0.0014},{"t":1653,"v":-0.0011},{"t":1656,"v":-0.0013},{"t":1660,"v":-0.0009},{"t":1663,"v":-0.0014},{"t":1666,"v":-0.0012},{"t":1668,"v":-0.0015},{"t":1671,"v":-0.001},{"t":1675,"v":-0.0007},{"t":1678,"v":-0.0004},{"t":1681,"v":-0.0002},{"t":1683,"v":-0.0005},{"t":1686,"v":-0.0003},{"t":1689,"v":-0.0008},{"t":1691,"v":-0.0006},{"t":1694,"v":-0.0011},{"t":1698,"v":-0.001},{"t":1701,"v":-0.002},{"t":1704,"v":-0.003},{"t":1707,"v":-0.00348},{"t":1710,"v":-0.0028},{"t":1713,"v":-0.0012},{"t":1716,"v":0.0003},{"t":1719,"v":0.00117},{"t":1722,"v":0.0007},{"t":1725,"v":0.0009},{"t":1728,"v":0.0004},{"t":1731,"v":0.0006},{"t":1734,"v":0.0001},{"t":1737,"v":0.0003},{"t":1740,"v":-0.0004},{"t":1743,"v":0},{"t":1746,"v":-0.0006},{"t":1748,"v":-0.0002},{"t":1750,"v":-0.0008},{"t":1753,"v":-0.0012},{"t":1756,"v":-0.0016},{"t":1759,"v":-0.0007},{"t":1762,"v":-0.0003},{"t":1765,"v":-0.001},{"t":1768,"v":-0.0002},{"t":1771,"v":-0.0008},{"t":1774,"v":-0.0013},{"t":1777,"v":-0.0016},{"t":1780,"v":-0.0021},{"t":1783,"v":-0.0012},{"t":1786,"v":-0.0006},{"t":1789,"v":-0.0016},{"t":1792,"v":-0.0009},{"t":1795,"v":-0.0003},{"t":1797,"v":-0.0015},{"t":1799,"v":-0.0009}
    ]
  },
  "vconcat": [
    {
      "spacing": 19,
      "resolve": {"scale": {"color": "independent"}, "legend": {"color": "independent"}},
      "hconcat": [
        {
          "width": 438,
          "height": 241,
          "data": {"name": "south"},
          "mark": {"type": "line"},
          "encoding": {
            "x": {"field": "t", "type": "quantitative", "scale": {"domain": [-90, 1889], "nice": false, "zero": false}, "axis": {"values": [0, 250, 500, 750, 1000, 1250, 1500, 1750], "format": "d", "title": "Time(s)"}},
            "y": {"field": "v", "type": "quantitative", "scale": {"domain": [-0.00627, 0.00313], "nice": false, "zero": false}, "axis": {"values": [-0.006, -0.004, -0.002, 0, 0.002], "format": ".3f", "title": "Frequency Deviation (Hz)"}},
            "color": {"datum": "South", "type": "nominal", "scale": {"range": ["#1f77b4"]}, "legend": {"orient": "top-right"}}
          }
        },
        {
          "width": 437,
          "height": 241,
          "data": {"name": "california"},
          "mark": {"type": "line"},
          "encoding": {
            "x": {"field": "t", "type": "quantitative", "scale": {"domain": [-90, 1889], "nice": false, "zero": false}, "axis": {"values": [0, 250, 500, 750, 1000, 1250, 1500, 1750], "format": "d", "title": "Time(s)"}},
            "y": {"field": "v", "type": "quantitative", "scale": {"domain": [-0.00634, 0.00304], "nice": false, "zero": false}, "axis": {"values": [-0.006, -0.004, -0.002, 0, 0.002], "format": ".3f", "title": "Frequency Deviation (Hz)"}},
            "color": {"datum": "California", "type": "nominal", "scale": {"range": ["#1f77b4"]}, "legend": {"orient": "top-left"}}
          }
        }
      ]
    },
    {
      "spacing": 19,
      "resolve": {"scale": {"color": "independent"}, "legend": {"color": "independent"}},
      "hconcat": [
        {
          "width": 438,
          "height": 241,
          "data": {"name": "north"},
          "mark": {"type": "line"},
          "encoding": {
            "x": {"field": "t", "type": "quantitative", "scale": {"domain": [-90, 1889], "nice": false, "zero": false}, "axis": {"values": [0, 250, 500, 750, 1000, 1250, 1500, 1750], "format": "d", "title": "Time(s)"}},
            "y": {"field": "v", "type": "quantitative", "scale": {"domain": [-0.00614, 0.00307], "nice": false, "zero": false}, "axis": {"values": [-0.006, -0.004, -0.002, 0, 0.002], "format": ".3f", "title": "Frequency Deviation (Hz)"}},
            "color": {"datum": "North", "type": "nominal", "scale": {"range": ["#1f77b4"]}, "legend": {"orient": "top-right"}}
          }
        },
        {
          "width": 437,
          "height": 241,
          "data": {"name": "mexico"},
          "mark": {"type": "line"},
          "encoding": {
            "x": {"field": "t", "type": "quantitative", "scale": {"domain": [-90, 1889], "nice": false, "zero": false}, "axis": {"values": [0, 250, 500, 750, 1000, 1250, 1500, 1750], "format": "d", "title": "Time(s)"}},
            "y": {"field": "v", "type": "quantitative", "scale": {"domain": [-0.00703, 0.00318], "nice": false, "zero": false}, "axis": {"values": [-0.006, -0.004, -0.002, 0, 0.002], "format": ".3f", "title": "Frequency Deviation (Hz)"}},
            "color": {"datum": "Mexico", "type": "nominal", "scale": {"range": ["#1f77b4"]}, "legend": {"orient": "top-right"}}
          }
        }
      ]
    }
  ]
}
